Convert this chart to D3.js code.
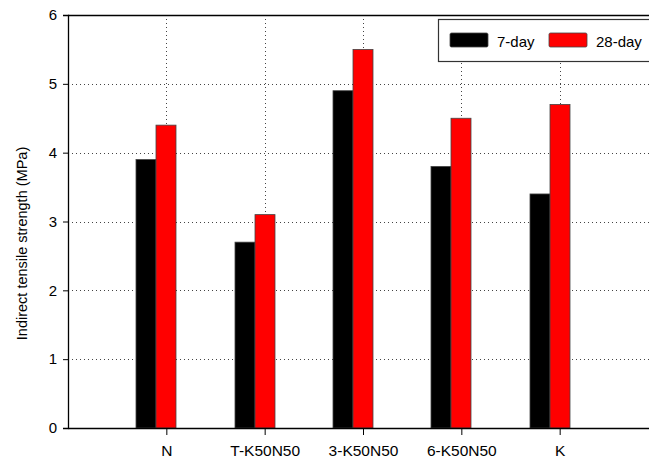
<!DOCTYPE html>
<html>
<head>
<meta charset="utf-8">
<script src="https://cdn.jsdelivr.net/npm/d3@7"></script>
<style>
  html, body { margin: 0; padding: 0; background: #fff; }
  svg { display: block; font-family: "Liberation Sans", Arial, sans-serif; }
</style>
</head>
<body>
<svg id="chart" width="649" height="461"></svg>
<script>
// Indirect tensile strength of each mix at 7 and 28 days
const categories = ["N", "T-K50N50", "3-K50N50", "6-K50N50", "K"];
const seriesNames = ["7-day", "28-day"];
const day7 = [3.9, 2.7, 4.9, 3.8, 3.4];
const day28 = [4.4, 3.1, 5.5, 4.5, 4.7];
const yTicks = [0, 1, 2, 3, 4, 5, 6];
const colors = ["#000000", "#ff0000"];

const svg = d3.select("#chart");
const plotLeft = 68, plotRight = 658, plotTop = 15, plotBottom = 428;

const x = d3.scalePoint().domain(categories).range([plotLeft, plotRight]).padding(1);
const y = d3.scaleLinear().domain([0, 6]).range([plotBottom, plotTop]);
const barW = 20;

// dotted grid
const grid = svg.append("g").attr("stroke", "#444").attr("stroke-width", 1)
  .attr("stroke-dasharray", "1,3");
grid.selectAll("line.h").data(yTicks.filter(t => t > 0 && t < 6)).join("line")
  .attr("class", "h")
  .attr("x1", plotLeft).attr("x2", plotRight)
  .attr("y1", d => Math.round(y(d)) + 0.5).attr("y2", d => Math.round(y(d)) + 0.5);
grid.selectAll("line.v").data(categories).join("line")
  .attr("class", "v")
  .attr("x1", d => Math.round(x(d)) + 0.5).attr("x2", d => Math.round(x(d)) + 0.5)
  .attr("y1", plotTop).attr("y2", plotBottom);

// bars
const series = [day7, day28];
series.forEach((vals, si) => {
  svg.append("g").selectAll("rect").data(vals).join("rect")
    .attr("x", (d, i) => Math.round(x(categories[i])) - 30 + si * barW)
    .attr("y", d => y(d))
    .attr("width", barW)
    .attr("height", d => plotBottom - y(d))
    .attr("fill", colors[si])
    .attr("stroke", "#444")
    .attr("stroke-width", 0.8);
});

// frame (top line)
svg.append("line").attr("x1", plotLeft).attr("x2", plotRight)
  .attr("y1", plotTop + 0.5).attr("y2", plotTop + 0.5)
  .attr("stroke", "#000").attr("stroke-width", 1.3);

// axes
const yAxis = d3.axisLeft(y).tickValues(yTicks).tickSize(5).tickPadding(6).tickFormat(d3.format("d"));
const yg = svg.append("g").attr("transform", `translate(${plotLeft},0)`).call(yAxis);
yg.select(".domain").attr("stroke-width", 1.3);
yg.selectAll("text").attr("font-size", 15).attr("fill", "#000")
  .attr("font-family", "'Liberation Sans', Arial, sans-serif");

const xAxis = d3.axisBottom(x).tickSize(7).tickPadding(10).tickSizeOuter(0);
const xg = svg.append("g").attr("transform", `translate(0,${plotBottom})`).call(xAxis);
xg.select(".domain").attr("stroke-width", 1.3);
xg.selectAll("text").attr("font-size", 15.5).attr("fill", "#000")
  .attr("font-family", "'Liberation Sans', Arial, sans-serif");

// y axis title
svg.append("text")
  .attr("transform", `translate(27,${(plotTop + plotBottom) / 2 + 22}) rotate(-90)`)
  .attr("text-anchor", "middle")
  .attr("font-size", 14.5)
  .text("Indirect tensile strength (MPa)");

// legend
const lg = svg.append("g");
lg.append("rect").attr("x", 438.5).attr("y", 19.5).attr("width", 230).attr("height", 42)
  .attr("fill", "#fff").attr("stroke", "#333").attr("stroke-width", 1.2);
seriesNames.forEach((name, i) => {
  const x0 = 450 + i * 99;
  lg.append("rect").attr("x", x0).attr("y", 33).attr("width", 38).attr("height", 14)
    .attr("fill", colors[i]).attr("stroke", "#444").attr("stroke-width", 0.8).attr("rx", 1.5);
  lg.append("text").attr("x", x0 + 47).attr("y", 46.5).attr("font-size", 15).text(name);
});
</script>
</body>
</html>
